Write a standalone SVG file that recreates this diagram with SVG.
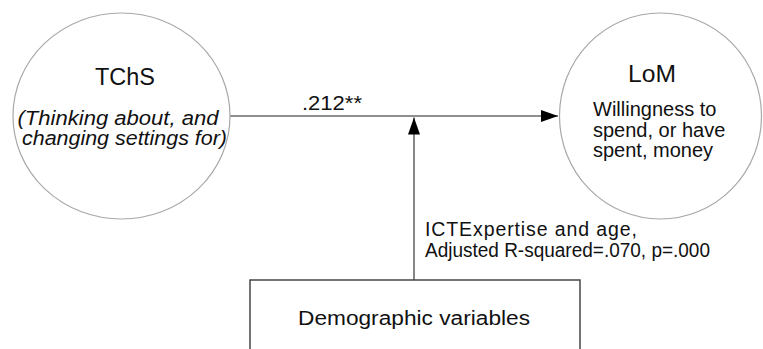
<svg xmlns="http://www.w3.org/2000/svg" width="763" height="349" viewBox="0 0 763 349">
  <style>
    .bg { fill: #ffffff; }
    .construct { fill: #ffffff; stroke: #a8a8a8; stroke-width: 1.2; }
    .box { fill: #ffffff; stroke: #3a3a3a; stroke-width: 1.4; }
    .link { fill: none; stroke: #6a6a6a; stroke-width: 1.6; }
    text { font-family: "Liberation Sans", Arial, sans-serif; fill: #111111; }
    .title { font-size: 23px; text-anchor: middle; }
    .sub { font-size: 20px; font-style: italic; text-anchor: middle; }
    .body { font-size: 20px; }
    .label { font-size: 19.5px; }
  </style>
  <defs>
    <marker id="head" markerUnits="userSpaceOnUse" markerWidth="18" markerHeight="13" refX="17" refY="6" orient="auto">
      <path d="M0,0 L17,6 L0,12 Z" fill="#000000"/>
    </marker>
  </defs>

  <rect class="bg" x="0" y="0" width="763" height="349"/>

  <!-- connectors -->
  <g id="connectors">
    <line class="link" x1="230" y1="116" x2="558" y2="116" marker-end="url(#head)"/>
    <line class="link" x1="414" y1="280" x2="414" y2="117.5" marker-end="url(#head)"/>
    <text class="label" x="302" y="110" textLength="60" lengthAdjust="spacingAndGlyphs">.212**</text>
    <text class="label" x="425" y="236" textLength="212" lengthAdjust="spacing">ICTExpertise and age,</text>
    <text class="label" x="425" y="257" textLength="285" lengthAdjust="spacingAndGlyphs">Adjusted R-squared=.070, p=.000</text>
  </g>

  <!-- predictor -->
  <g id="tchs">
    <ellipse class="construct" cx="121.5" cy="116" rx="108.5" ry="103"/>
    <text class="title" x="125" y="85" textLength="60" lengthAdjust="spacingAndGlyphs">TChS</text>
    <text class="sub" x="118" y="125" textLength="201" lengthAdjust="spacingAndGlyphs">(Thinking about, and</text>
    <text class="sub" x="124.5" y="145" textLength="205" lengthAdjust="spacingAndGlyphs">changing settings for)</text>
  </g>

  <!-- outcome -->
  <g id="lom">
    <ellipse class="construct" cx="660.5" cy="116" rx="101" ry="103"/>
    <text class="title" x="652" y="82" textLength="48" lengthAdjust="spacingAndGlyphs">LoM</text>
    <text class="body" x="593" y="116">Willingness to</text>
    <text class="body" x="593" y="137">spend, or have</text>
    <text class="body" x="593" y="157">spent, money</text>
  </g>

  <!-- moderator -->
  <g id="demographics">
    <rect class="box" x="250" y="280" width="330" height="100"/>
    <text class="label" x="298" y="325" textLength="232" lengthAdjust="spacingAndGlyphs">Demographic variables</text>
  </g>
</svg>
